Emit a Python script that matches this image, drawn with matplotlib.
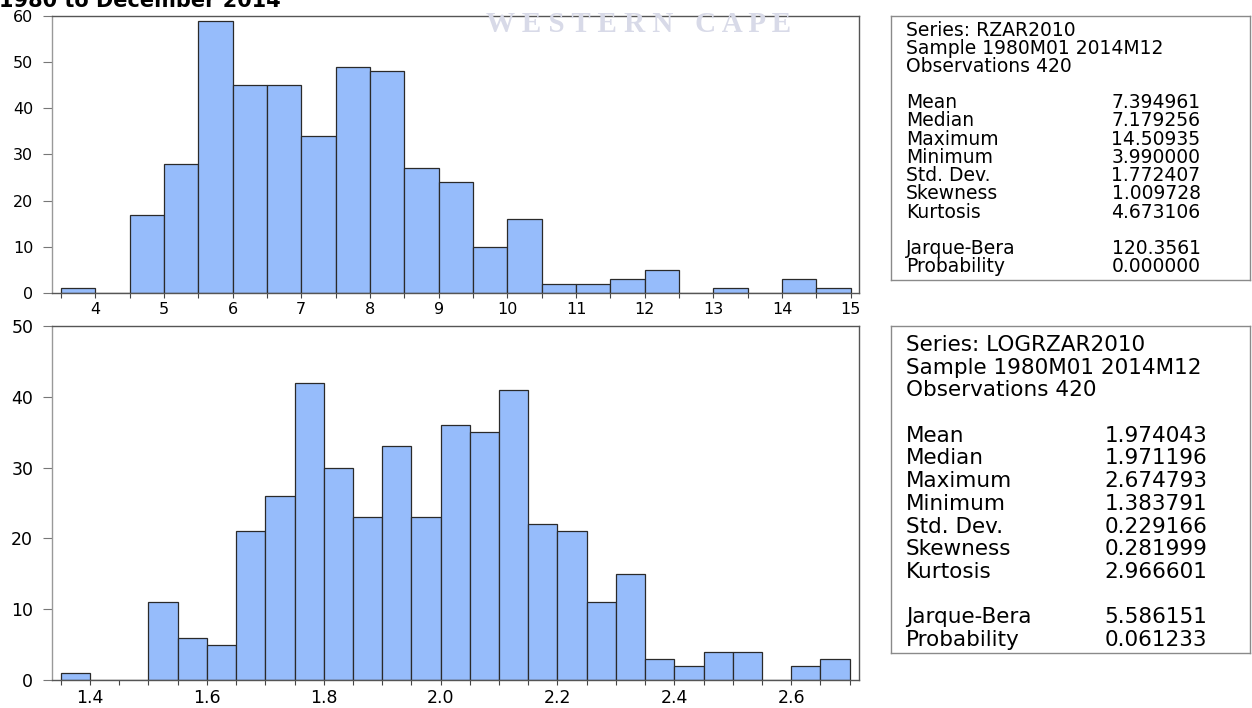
import matplotlib
matplotlib.use("Agg")
import matplotlib.pyplot as plt
import numpy as np
from matplotlib.ticker import MultipleLocator

# ── Data ────────────────────────────────────────────────────────────────────
RZAR_EDGES = np.linspace(3.5, 15.0, 24)          # bins of 0.5
RZAR_COUNTS = [1, 0, 17, 28, 59, 45, 45, 34, 49, 48, 27, 24,
               10, 16, 2, 2, 3, 5, 0, 1, 0, 3, 1]

LOG_EDGES = np.linspace(1.35, 2.70, 28)          # bins of 0.05
LOG_COUNTS = [1, 0, 0, 11, 6, 5, 21, 26, 42, 30, 23, 33, 23, 36,
              35, 41, 22, 21, 11, 15, 3, 2, 4, 4, 0, 2, 3]

STAT_NAMES = ["Mean", "Median", "Maximum", "Minimum", "Std. Dev.",
              "Skewness", "Kurtosis"]
TEST_NAMES = ["Jarque-Bera", "Probability"]

RZAR_HEAD = ["Series: RZAR2010", "Sample 1980M01 2014M12", "Observations 420"]
RZAR_STATS = ["7.394961", "7.179256", "14.50935", "3.990000", "1.772407",
              "1.009728", "4.673106"]
RZAR_TESTS = ["120.3561", "0.000000"]

LOG_HEAD = ["Series: LOGRZAR2010", "Sample 1980M01 2014M12", "Observations 420"]
LOG_STATS = ["1.974043", "1.971196", "2.674793", "1.383791", "0.229166",
             "0.281999", "2.966601"]
LOG_TESTS = ["5.586151", "0.061233"]

TITLE = "1980 to December 2014"
WATERMARK = "W E S T E R N   C A P E"

BAR_COLOR = "#96bcfb"
W, H = 1252, 708

plt.rcParams["font.family"] = ["DejaVu Sans"]
fig = plt.figure(figsize=(W / 100, H / 100), dpi=100)


def px_rect(x0, y0, x1, y1):
    return [x0 / W, 1 - y1 / H, (x1 - x0) / W, (y1 - y0) / H]


def draw_hist(rect, edges, counts, xlim, ymax, major, minor, fs, xfmt):
    ax = fig.add_axes(rect)
    ax.bar(edges[:-1], counts, width=np.diff(edges), align="edge",
           color=BAR_COLOR, edgecolor="#2a2a2a", linewidth=0.9)
    ax.set_xlim(*xlim)
    ax.set_ylim(0, ymax)
    ax.xaxis.set_major_locator(MultipleLocator(major))
    ax.xaxis.set_minor_locator(MultipleLocator(minor))
    ax.xaxis.set_major_formatter(xfmt)
    ax.yaxis.set_major_locator(MultipleLocator(10))
    ax.tick_params(axis="y", direction="out", length=6.5, width=0.8,
                   color="#777777", pad=7, labelsize=fs)
    ax.tick_params(axis="x", which="both", direction="out", length=3.5,
                   width=0.8, color="#444444", pad=3, labelsize=fs)
    for side in ("top", "right", "bottom"):
        ax.spines[side].set_color("#555555")
    ax.spines["left"].set_color("#999999")
    for sp in ax.spines.values():
        sp.set_linewidth(1.0)
    return ax


ax1 = draw_hist(px_rect(52, 16, 859, 293), RZAR_EDGES, RZAR_COUNTS,
                (3.37, 15.12), 60, 1, 0.5, 11.5, "{x:.0f}")
ax2 = draw_hist(px_rect(52, 326, 859, 680), LOG_EDGES, LOG_COUNTS,
                (1.335, 2.716), 50, 0.2, 0.05, 12.5, "{x:.1f}")


def stats_box(rect, y0, dy, fs, head, stats, tests):
    bx = fig.add_axes(rect)
    bx.set_xticks([])
    bx.set_yticks([])
    for sp in bx.spines.values():
        sp.set_color("#8a8a8a")
        sp.set_linewidth(1.0)
    rows = head + [None] + list(zip(STAT_NAMES, stats)) + [None] + \
        list(zip(TEST_NAMES, tests))
    for i, row in enumerate(rows):
        if row is None:
            continue
        y = 1 - (y0 + i * dy) / H
        if isinstance(row, str):
            fig.text(906 / W, y, row, fontsize=fs, va="center", ha="left")
        else:
            fig.text(906 / W, y, row[0], fontsize=fs, va="center", ha="left")
            fig.text(1156 / W, y, row[1], fontsize=fs, va="center",
                     ha="center")


stats_box(px_rect(891, 16, 1250, 280), 30, 18.2, 13.5,
          RZAR_HEAD, RZAR_STATS, RZAR_TESTS)
stats_box(px_rect(891, 326, 1250, 653), 345, 22.7, 15.5,
          LOG_HEAD, LOG_STATS, LOG_TESTS)

# cropped caption from the source page and the watermark
fig.text(-0.001, 1 - 7 / H, TITLE, fontsize=15, fontweight="bold",
         va="baseline", ha="left")
fig.text(639 / W, 1 - 25 / H, WATERMARK, fontsize=21, fontweight="bold",
         family="Liberation Serif", color="#d8dae8", va="center",
         ha="center", zorder=5)

fig.savefig("out.png", dpi=100)
